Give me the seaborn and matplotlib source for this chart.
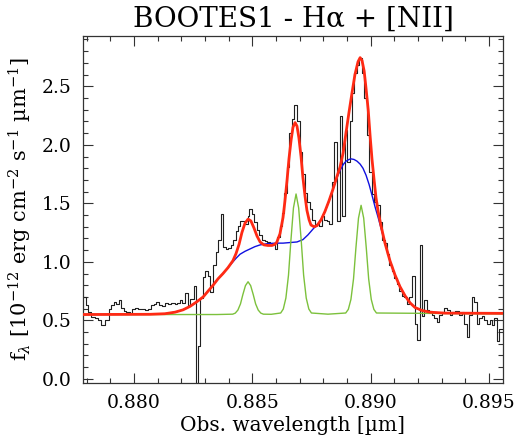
import matplotlib
matplotlib.use("Agg")
import matplotlib.pyplot as plt
import seaborn as sns
from matplotlib.ticker import MultipleLocator, FormatStrFormatter

# observed spectrum (bin left edges, last entry = right edge of last bin)
hist_wl = [
    0.87770, 0.87796, 0.87806, 0.87820, 0.87834, 0.87848, 0.87862, 0.87876, 0.87894, 0.87904,
    0.87914, 0.87925, 0.87937, 0.87946, 0.87957, 0.87968, 0.87982, 0.87993, 0.88003, 0.88017,
    0.88031, 0.88045, 0.88059, 0.88073, 0.88083, 0.88094, 0.88106, 0.88120, 0.88130, 0.88144,
    0.88158, 0.88172, 0.88183, 0.88193, 0.88204, 0.88214, 0.88228, 0.88238, 0.88252, 0.88263,
    0.88271, 0.88280, 0.88292, 0.88301, 0.88312, 0.88323, 0.88334, 0.88345, 0.88355, 0.88366,
    0.88376, 0.88387, 0.88397, 0.88408, 0.88418, 0.88429, 0.88440, 0.88450, 0.88461, 0.88471,
    0.88480, 0.88488, 0.88499, 0.88509, 0.88520, 0.88530, 0.88541, 0.88552, 0.88562, 0.88573,
    0.88583, 0.88594, 0.88604, 0.88615, 0.88626, 0.88636, 0.88647, 0.88657, 0.88668, 0.88678,
    0.88689, 0.88700, 0.88710, 0.88721, 0.88731, 0.88742, 0.88752, 0.88763, 0.88773, 0.88784,
    0.88795, 0.88805, 0.88816, 0.88826, 0.88837, 0.88847, 0.88858, 0.88869, 0.88879, 0.88890,
    0.88900, 0.88911, 0.88921, 0.88932, 0.88943, 0.88953, 0.88964, 0.88974, 0.88985, 0.88995,
    0.89006, 0.89016, 0.89027, 0.89038, 0.89048, 0.89059, 0.89069, 0.89080, 0.89090, 0.89101,
    0.89112, 0.89122, 0.89133, 0.89143, 0.89154, 0.89164, 0.89175, 0.89186, 0.89196, 0.89207,
    0.89217, 0.89228, 0.89238, 0.89249, 0.89260, 0.89270, 0.89281, 0.89291, 0.89302, 0.89312,
    0.89323, 0.89334, 0.89344, 0.89355, 0.89365, 0.89376, 0.89386, 0.89397, 0.89407, 0.89418,
    0.89429, 0.89439, 0.89450, 0.89460, 0.89471, 0.89481, 0.89492, 0.89503, 0.89513, 0.89524,
    0.89534, 0.89545, 0.89570,
]
hist_flux = [
    0.70, 0.63, 0.575, 0.53, 0.52, 0.50, 0.46, 0.50, 0.60, 0.63,
    0.66, 0.64, 0.67, 0.61, 0.58, 0.57, 0.56, 0.60, 0.61, 0.60,
    0.595, 0.59, 0.60, 0.63, 0.64, 0.66, 0.63, 0.62, 0.65, 0.64,
    0.65, 0.64, 0.645, 0.67, 0.65, 0.73, 0.63, 0.68, 0.79, -0.10,
    0.28, 0.69, 0.87, 0.92, 0.88, 0.74, 0.97, 1.08, 1.19, 1.41,
    1.13, 1.11, 1.12, 1.14, 1.19, 1.26, 1.31, 1.35, 1.35, 1.32,
    1.39, 1.45, 1.41, 1.34, 1.27, 1.23, 1.19, 1.18, 1.17, 1.16,
    1.15, 1.11, 1.21, 1.31, 1.42, 1.59, 1.81, 2.10, 2.22, 2.34,
    2.20, 1.94, 1.75, 1.59, 1.51, 1.45, 1.36, 1.32, 1.33, 1.31,
    1.39, 1.36, 1.35, 1.32, 1.68, 2.02, 1.35, 2.25, 1.39, 2.13,
    1.85, 2.20, 2.44, 2.61, 2.68, 2.74, 2.61, 2.40, 2.08, 1.77,
    1.58, 1.51, 1.49, 1.34, 1.19, 1.16, 1.07, 0.97, 0.92, 0.86,
    0.81, 0.75, 0.71, 0.70, 0.64, 0.70, 0.88, 0.47, 0.33, 1.14,
    0.54, 0.67, 0.59, 0.58, 0.55, 0.52, 0.49, 0.55, 0.57, 0.61,
    0.59, 0.55, 0.57, 0.58, 0.58, 0.55, 0.57, 0.47, 0.36, 0.55,
    0.70, 0.66, 0.47, 0.52, 0.54, 0.50, 0.47, 0.50, 0.46, 0.52,
    0.32, 0.43,
]

# total fit (red)
fit_wl = [
    0.87770, 0.88068, 0.88131, 0.88173, 0.88207, 0.88237, 0.88266, 0.88292, 0.88313, 0.88334,
    0.88355, 0.88376, 0.88397, 0.88418, 0.88431, 0.88444, 0.88456, 0.88469, 0.88482, 0.88494,
    0.88507, 0.88520, 0.88533, 0.88549, 0.88566, 0.88583, 0.88596, 0.88604, 0.88617, 0.88630,
    0.88638, 0.88647, 0.88655, 0.88664, 0.88672, 0.88681, 0.88689, 0.88697, 0.88706, 0.88714,
    0.88723, 0.88731, 0.88740, 0.88748, 0.88761, 0.88774, 0.88791, 0.88807, 0.88824, 0.88841,
    0.88858, 0.88871, 0.88884, 0.88896, 0.88909, 0.88922, 0.88934, 0.88947, 0.88956, 0.88964,
    0.88973, 0.88981, 0.88990, 0.88998, 0.89006, 0.89015, 0.89023, 0.89032, 0.89044, 0.89061,
    0.89082, 0.89103, 0.89124, 0.89146, 0.89167, 0.89188, 0.89217, 0.89251, 0.89315, 0.89570,
]
fit_flux = [
    0.55, 0.552, 0.557, 0.57, 0.59, 0.62, 0.66, 0.70, 0.75, 0.80,
    0.855, 0.90, 0.95, 1.01, 1.07, 1.15, 1.25, 1.33, 1.365, 1.35,
    1.29, 1.22, 1.17, 1.145, 1.14, 1.14, 1.15, 1.17, 1.24, 1.38,
    1.52, 1.70, 1.88, 2.04, 2.15, 2.19, 2.16, 2.06, 1.90, 1.72,
    1.56, 1.44, 1.36, 1.315, 1.30, 1.31, 1.36, 1.43, 1.52, 1.62,
    1.73, 1.81, 1.93, 2.10, 2.28, 2.45, 2.60, 2.71, 2.745, 2.72,
    2.63, 2.48, 2.30, 2.08, 1.88, 1.70, 1.55, 1.43, 1.31, 1.16,
    1.01, 0.89, 0.79, 0.71, 0.65, 0.61, 0.585, 0.57, 0.562, 0.56,
]

# broad component + continuum (blue)
broad_wl = [
    0.87770, 0.88068, 0.88131, 0.88173, 0.88207, 0.88237, 0.88266, 0.88292, 0.88313, 0.88334,
    0.88355, 0.88376, 0.88397, 0.88418, 0.88431, 0.88448, 0.88469, 0.88490, 0.88511, 0.88533,
    0.88562, 0.88596, 0.88630, 0.88659, 0.88689, 0.88714, 0.88735, 0.88748, 0.88761, 0.88774,
    0.88791, 0.88807, 0.88824, 0.88841, 0.88858, 0.88871, 0.88884, 0.88896, 0.88909, 0.88917,
    0.88930, 0.88943, 0.88956, 0.88968, 0.88981, 0.88994, 0.89006, 0.89019, 0.89032, 0.89044,
    0.89061, 0.89082, 0.89103, 0.89124, 0.89146, 0.89167, 0.89188, 0.89217, 0.89251, 0.89315,
    0.89570,
]
broad_flux = [
    0.55, 0.552, 0.557, 0.57, 0.59, 0.62, 0.66, 0.70, 0.75, 0.80,
    0.855, 0.90, 0.95, 1.00, 1.03, 1.065, 1.09, 1.11, 1.13, 1.145,
    1.155, 1.16, 1.16, 1.165, 1.17, 1.19, 1.23, 1.26, 1.29, 1.31,
    1.36, 1.43, 1.52, 1.62, 1.72, 1.78, 1.83, 1.86, 1.875, 1.88,
    1.875, 1.86, 1.835, 1.80, 1.74, 1.66, 1.57, 1.47, 1.38, 1.29,
    1.16, 1.01, 0.89, 0.79, 0.71, 0.65, 0.61, 0.585, 0.57, 0.562,
    0.56,
]

# narrow lines + continuum (green): [NII]6548, Ha, [NII]6583
narrow_wl = [
    0.87770, 0.88350, 0.88417, 0.88428, 0.88439, 0.88450, 0.88460, 0.88471, 0.88482, 0.88493,
    0.88504, 0.88514, 0.88525, 0.88536, 0.88547, 0.88580, 0.88620, 0.88631, 0.88642, 0.88653,
    0.88663, 0.88674, 0.88685, 0.88696, 0.88707, 0.88717, 0.88728, 0.88739, 0.88750, 0.88820,
    0.88895, 0.88906, 0.88917, 0.88928, 0.88938, 0.88949, 0.88960, 0.88971, 0.88982, 0.88992,
    0.89003, 0.89014, 0.89025, 0.89570,
]
narrow_flux = [
    0.55, 0.55, 0.553, 0.562, 0.588, 0.641, 0.72, 0.797, 0.83, 0.797,
    0.72, 0.641, 0.588, 0.562, 0.553, 0.552, 0.563, 0.597, 0.691, 0.886,
    1.177, 1.461, 1.58, 1.461, 1.177, 0.886, 0.691, 0.597, 0.563, 0.553,
    0.563, 0.594, 0.679, 0.855, 1.117, 1.374, 1.483, 1.374, 1.117, 0.855,
    0.679, 0.594, 0.563, 0.555,
]

sns.set_style("ticks")
plt.rcParams["font.family"] = ["DejaVu Serif"]
plt.rcParams["mathtext.fontset"] = "dejavuserif"
plt.rcParams["text.color"] = "black"
plt.rcParams["axes.labelcolor"] = "black"

fig = plt.figure(figsize=(5.17, 4.42), dpi=100)
ax = fig.add_axes([0.1605, 0.1335, 0.8124, 0.7851])

# step spectrum
step_flux = hist_flux + [hist_flux[-1]]
sns.lineplot(x=hist_wl, y=step_flux, drawstyle="steps-post", color="#202020",
             lw=0.8, estimator=None, sort=False, ax=ax, zorder=2)
sns.lineplot(x=broad_wl, y=broad_flux, color="#1010e0", lw=1.0,
             estimator=None, sort=False, ax=ax, zorder=3)
sns.lineplot(x=narrow_wl, y=narrow_flux, color="#7cc13c", lw=1.0,
             estimator=None, sort=False, ax=ax, zorder=3)
sns.lineplot(x=fit_wl, y=fit_flux, color="#ff2a14", lw=2.0,
             estimator=None, sort=False, ax=ax, zorder=4)

ax.set_xlim(0.87784, 0.89560)
ax.set_ylim(-0.035, 2.93)

ax.xaxis.set_major_locator(MultipleLocator(0.005))
ax.xaxis.set_minor_locator(MultipleLocator(0.001))
ax.yaxis.set_major_locator(MultipleLocator(0.5))
ax.yaxis.set_minor_locator(MultipleLocator(0.1))
ax.xaxis.set_major_formatter(FormatStrFormatter("%.3f"))
ax.yaxis.set_major_formatter(FormatStrFormatter("%.1f"))

ax.tick_params(which="both", direction="in", top=True, right=True,
               colors="#333333", width=0.8, labelsize=13.5, labelcolor="black")
ax.tick_params(which="major", length=7, pad=8)
ax.tick_params(which="minor", length=3.5)
for s in ax.spines.values():
    s.set_color("#333333")
    s.set_linewidth(0.9)

ax.set_xlabel("Obs. wavelength [µm]", fontsize=14.5, labelpad=3)
ax.set_ylabel(r"f$_\lambda$ [10$^{-12}$ erg cm$^{-2}$ s$^{-1}$ µm$^{-1}$]",
              fontsize=15, labelpad=6)
ax.set_title("BOOTES1 - Hα + [NII]", fontsize=20, pad=7)

fig.savefig("out.png", dpi=100)
